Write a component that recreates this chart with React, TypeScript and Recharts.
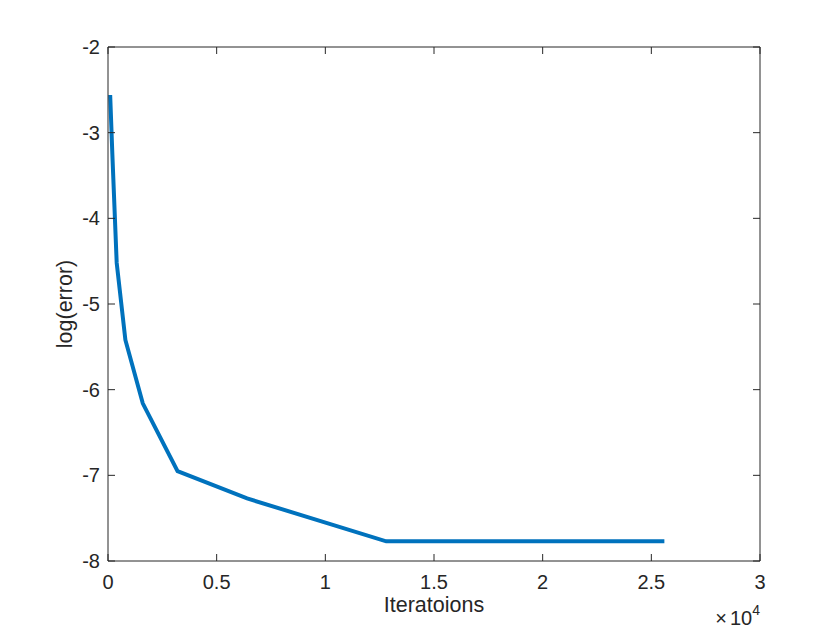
import React from 'react';
import { LineChart, Line, XAxis, YAxis, Label } from 'recharts';

const iterations = [100, 200, 400, 800, 1600, 3200, 6400, 12800, 25600];
const logError = [-2.56, -3.25, -4.52, -5.42, -6.16, -6.95, -7.27, -7.77, -7.77];
const xTicks = [0, 5000, 10000, 15000, 20000, 25000, 30000];
const yTicks = [-8, -7, -6, -5, -4, -3, -2];
const xLabel = 'Iteratoions';
const yLabel = 'log(error)';

const data = iterations.map((it, i) => ({ it, err: logError[i] }));

const FONT = '"Liberation Sans", Arial, Helvetica, sans-serif';
const TXT = '#262626';
const AX = '#262626';
const TICK = 7;

const fmtX = (v: number) => String(v / 10000);

const XTick = (props: any) => {
  const { x, y, payload } = props;
  return (
    <g>
      <line x1={x} x2={x} y1={y} y2={y - TICK} stroke={AX} strokeWidth={1} />
      <text x={x} y={y + 28} textAnchor="middle" fontSize={20} fill={TXT} fontFamily={FONT}>
        {fmtX(payload.value)}
      </text>
    </g>
  );
};

const YTick = (props: any) => {
  const { x, y, payload } = props;
  return (
    <g>
      <line x1={x} x2={x + TICK} y1={y} y2={y} stroke={AX} strokeWidth={1} />
      <text x={x - 8} y={y + 7} textAnchor="end" fontSize={20} fill={TXT} fontFamily={FONT}>
        {String(payload.value)}
      </text>
    </g>
  );
};

const blank = () => '';

export default function App() {
  return (
    <div style={{ position: 'absolute', left: 0, top: 0, width: 840, height: 630, background: '#fff' }}>
      <LineChart
        width={840}
        height={630}
        data={data}
        margin={{ top: 47, right: 80, bottom: 68, left: 107 }}
      >
        <XAxis
          dataKey="it"
          type="number"
          domain={[0, 30000]}
          ticks={xTicks}
          allowDataOverflow
          height={1}
          tickSize={0}
          tickMargin={0}
          tickLine={false}
          axisLine={{ stroke: AX, strokeWidth: 1 }}
          tick={<XTick />}
          interval={0}
        >
          <Label
            content={(p: any) => {
              const vb = p.viewBox || { x: 108, y: 561, width: 652, height: 0 };
              return (
                <g fontFamily={FONT} fill={TXT}>
                  <text x={vb.x + vb.width / 2} y={vb.y + 51} textAnchor="middle" fontSize={21.5} fill={TXT}>
                    {xLabel}
                  </text>
                  <text x={vb.x + vb.width} y={vb.y + 64} textAnchor="end" fontSize={20} fill={TXT}>
                    <tspan>×</tspan>
                    <tspan dx={3}>10</tspan>
                    <tspan dy={-10} fontSize={14}>4</tspan>
                  </text>
                </g>
              );
            }}
          />
        </XAxis>
        <XAxis
          xAxisId="top"
          orientation="top"
          dataKey="it"
          type="number"
          domain={[0, 30000]}
          ticks={xTicks}
          allowDataOverflow
          height={1}
          mirror
          tickSize={TICK}
          tickLine={{ stroke: AX }}
          axisLine={{ stroke: AX, strokeWidth: 1 }}
          tickFormatter={blank}
          interval={0}
        />
        <YAxis
          type="number"
          domain={[-8, -2]}
          ticks={yTicks}
          allowDataOverflow
          width={1}
          tickSize={0}
          tickMargin={0}
          tickLine={false}
          axisLine={{ stroke: AX, strokeWidth: 1 }}
          tick={<YTick />}
          interval={0}
        >
          <Label
            content={(p: any) => {
              const vb = p.viewBox || { x: 108, y: 47, width: 0, height: 514 };
              const cx = vb.x + vb.width - 36;
              const cy = vb.y + vb.height / 2;
              return (
                <text
                  x={cx}
                  y={cy}
                  transform={`rotate(-90 ${cx} ${cy})`}
                  textAnchor="middle"
                  fontSize={21.5}
                  fill={TXT}
                  fontFamily={FONT}
                >
                  {yLabel}
                </text>
              );
            }}
          />
        </YAxis>
        <YAxis
          yAxisId="right"
          orientation="right"
          type="number"
          domain={[-8, -2]}
          ticks={yTicks}
          allowDataOverflow
          width={1}
          mirror
          tickSize={TICK}
          tickLine={{ stroke: AX }}
          axisLine={{ stroke: AX, strokeWidth: 1 }}
          tickFormatter={blank}
          interval={0}
        />
        <Line
          type="linear"
          dataKey="err"
          stroke="#0072BD"
          strokeWidth={4}
          dot={false}
          activeDot={false}
          isAnimationActive={false}
        />
      </LineChart>
    </div>
  );
}
